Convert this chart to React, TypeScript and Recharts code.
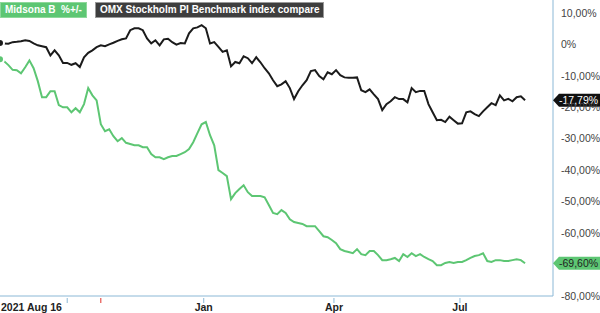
import React from 'react';
import { LineChart, Line, XAxis, YAxis, ReferenceDot } from 'recharts';

// values in % change, one point every second trading day from 2021 Aug 16
const midsona = [
  -4.7, -5.4, -6.6, -8.1, -8.2, -9.2, -7.3, -5.1, -7.6, -11.7,
  -16.8, -16.8, -14.9, -14.9, -19.3, -20.0, -20.0, -21.6, -20.3, -21.6,
  -19.0, -13.9, -16.2, -17.8, -25.4, -27.6, -27.0, -29.2, -30.8, -29.8,
  -31.3, -31.7, -32.1, -32.1, -32.7, -32.7, -34.9, -35.9, -35.9, -36.5,
  -35.9, -35.5, -35.5, -34.9, -34.3, -33.3, -31.1, -28.2, -25.4, -24.7,
  -28.9, -32.1, -40.0, -40.9, -41.9, -49.2, -47.3, -46.0, -44.8, -47.0,
  -48.2, -48.2, -48.2, -48.6, -51.1, -53.6, -54.0, -52.7, -53.6, -55.6,
  -56.5, -56.8, -57.1, -57.8, -57.8, -57.8, -59.4, -61.0, -61.3, -62.2,
  -63.2, -65.1, -65.7, -66.0, -66.4, -65.1, -66.7, -67.0, -65.7, -65.7,
  -67.0, -68.6, -68.6, -68.3, -67.9, -68.9, -66.7, -67.6, -66.4, -67.3,
  -66.7, -67.6, -68.3, -68.9, -70.2, -70.2, -69.5, -69.2, -69.5, -69.2,
  -69.2, -68.6, -67.9, -67.3, -67.0, -66.4, -68.9, -69.2, -68.6, -68.6,
  -68.9, -68.9, -68.6, -68.3, -68.6, -69.6,
];

const omxpi = [
  0.4, 0.3, 0.2, 0.7, 0.8, 1.0, 1.3, 1.1, 0.3, -0.3,
  -0.6, -0.9, -3.5, -1.9, -3.5, -5.9, -5.9, -6.5, -6.0, -7.2,
  -4.1, -2.7, -1.9, -0.9, -0.3, -0.6, 0.0, 0.5, 1.1, 1.6,
  1.9, 4.5, 5.1, 5.1, 4.5, 1.9, 0.3, 1.3, -0.3, 1.6,
  1.8, 0.7, -0.1, 0.4, 0.3, 3.5, 5.1, 5.4, 6.1, 5.1,
  0.3, 0.7, -0.8, -2.4, -1.9, -7.0, -5.6, -6.0, -3.8, -4.4,
  -6.0, -4.1, -5.7, -7.6, -9.2, -11.4, -13.3, -12.7, -11.7, -13.9,
  -17.4, -14.9, -13.0, -11.4, -8.5, -8.2, -10.1, -11.1, -8.9, -9.5,
  -8.2, -9.8, -10.5, -10.6, -10.6, -10.5, -14.6, -15.2, -14.3, -15.9,
  -17.4, -20.9, -19.0, -18.1, -16.8, -17.4, -17.4, -18.4, -13.9, -15.2,
  -14.8, -14.8, -19.0, -21.6, -24.1, -24.0, -24.7, -23.0, -24.1, -25.2,
  -25.1, -21.6, -21.3, -22.2, -22.8, -21.3, -20.0, -18.7, -19.3, -16.2,
  -17.8, -17.3, -18.1, -16.8, -16.5, -17.79,
];

// x ticks in trading days from start
const xTickDays = [0, 32, 48, 97, 159, 219];
const xTickLabels = ['2021 Aug 16', '', '', 'Jan', 'Apr', 'Jul'];
const yTicks = [10, 0, -10, -20, -30, -40, -50, -60, -80];

const data = midsona.map((v, i) => ({ day: i * 2, midsona: v, omx: omxpi[i] }));
const lastDay = 263.3;

const GREEN = '#5dc673';
const AXIS = '#8bb8d6';
const FONT = '"Liberation Sans", Arial, sans-serif';

const fmtPct = (v: number) => (v === 0 ? '0%' : v.toFixed(2).replace('.', ',') + '%');

function XTick(props: any) {
  const { x, y, index } = props;
  const label = xTickLabels[index];
  const red = index === 2;
  return (
    <g>
      {index > 0 && <line x1={x} x2={x} y1={y} y2={y + 5} stroke={red ? '#e0302a' : AXIS} strokeWidth={1} />}
      {label && (
        <text x={index === 0 ? 1 : x} y={y + 13} textAnchor={index === 0 ? 'start' : 'middle'}
          fontFamily={FONT} fontSize={10.5} fontWeight="bold" fill="#222">{label}</text>
      )}
    </g>
  );
}

function Tag({ cx, cy, fill, color, text }: any) {
  return (
    <g>
      <polygon points={`${cx},${cy} ${cx + 6},${cy - 6.5} ${cx + 47},${cy - 6.5} ${cx + 47},${cy + 6.5} ${cx + 6},${cy + 6.5}`} fill={fill} />
      <text x={cx + 6} y={cy + 4} fontFamily={FONT} fontSize={10.5} fill={color}>{text}</text>
    </g>
  );
}

export default function App() {
  return (
    <div style={{ position: 'relative', width: 600, height: 313, background: '#fff' }}>
      <style>{`body{margin:0}`}</style>
      <LineChart width={600} height={313} data={data} margin={{ top: 0, right: 0, bottom: 0, left: 0 }}>
        <XAxis dataKey="day" type="number" domain={[0, lastDay]} ticks={xTickDays} interval={0}
          height={17} stroke={AXIS} tickLine={false} tickSize={0} tick={<XTick />} />
        <YAxis orientation="right" domain={[-80, 14.1]} ticks={yTicks} interval={0} width={47}
          stroke={AXIS} tickLine={false} tickSize={0} tickMargin={8} tickFormatter={fmtPct}
          tick={{ fontSize: 10.5, fill: '#444', fontFamily: FONT, textAnchor: 'start' }} />
        <Line type="linear" dataKey="midsona" stroke={GREEN} strokeWidth={2} dot={false} isAnimationActive={false} />
        <Line type="linear" dataKey="omx" stroke="#1b1b1b" strokeWidth={2} dot={false} isAnimationActive={false} />
        <ReferenceDot x={lastDay} y={omxpi[omxpi.length - 1]} r={0}
          shape={(p: any) => <Tag {...p} fill="#111" color="#fff" text={fmtPct(omxpi[omxpi.length - 1])} />} />
        <ReferenceDot x={lastDay} y={midsona[midsona.length - 1]} r={0}
          shape={(p: any) => <Tag {...p} fill={GREEN} color="#222" text={fmtPct(midsona[midsona.length - 1])} />} />
      </LineChart>
      <div style={{ position: 'absolute', top: 2, left: 0, display: 'flex', gap: 8, fontFamily: FONT, fontSize: 10, fontWeight: 'bold', color: '#fff', whiteSpace: 'pre' }}>
        <span style={{ background: GREEN, border: '1px solid #8ed89b', padding: '1px 4px', lineHeight: '12px' }}>Midsona B  %+/-</span>
        <span style={{ background: '#3e3e3e', border: '1px solid #999', padding: '1px 4px', lineHeight: '12px' }}>OMX Stockholm PI Benchmark index compare</span>
      </div>
    </div>
  );
}
